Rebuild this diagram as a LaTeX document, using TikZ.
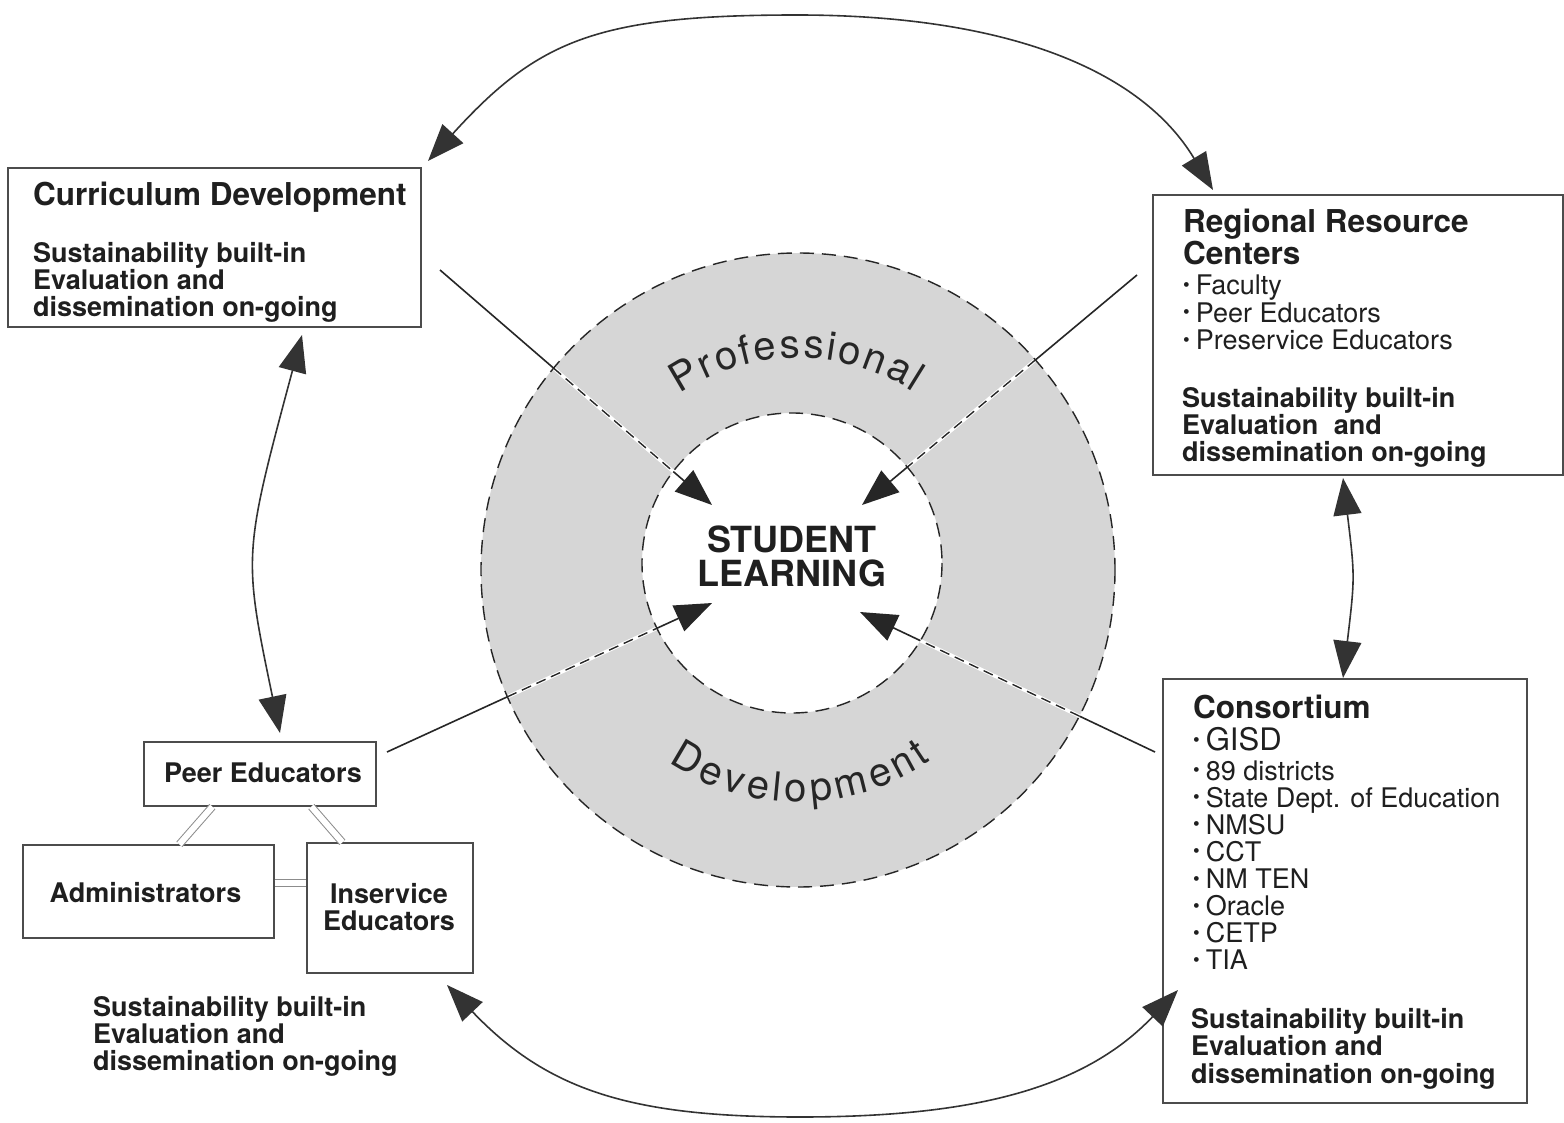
\documentclass[tikz,border=0pt]{standalone}
\usepackage{fontspec}
\setmainfont{TeX Gyre Heros}
\usetikzlibrary{arrows.meta,calc,decorations.text,intersections}
\newcommand\tblock[1]{\vtop{\tabskip=0pt\halign{##\hfil\cr#1\crcr}}}
\newcommand\cblock[1]{\vtop{\tabskip=0pt\halign{\hfil##\hfil\cr#1\crcr}}}
\newcommand\bul{\raisebox{3.5pt}{\fontsize{19}{19}\selectfont •}\hspace{6pt}}
\newcommand\fH{\fontsize{31.5}{29.5}\selectfont\bfseries}
\newcommand\fB{\fontsize{27}{27}\selectfont\bfseries}
\newcommand\fG{\fontsize{31}{31}\selectfont}
\newcommand\fP{\fontsize{40}{40}\selectfont}
\newcommand\fS{\fontsize{36}{34}\selectfont\bfseries}
\tikzset{
 boxs/.style={draw=black!70, line width=1.3pt, inner sep=0pt},
 txt/.style={inner sep=0pt, anchor=base west, text=black!88},
 ctxt/.style={inner sep=0pt, anchor=base, text=black!88},
 bigtip/.tip={Triangle[length=37pt,width=28pt]},
 radialarrow/.style={draw=black!85, line width=1.6pt, -bigtip},
 cyc/.style={draw=black!80, line width=1.6pt, bigtip-bigtip},
 ringgap/.style={draw=white, line width=3.5pt},
 ringdiv/.style={draw=black!85, line width=1.4pt, dash pattern=on 10pt off 6pt},
 ringdash/.style={draw=black!85, line width=1.4pt, dash pattern=on 14pt off 8pt},
 dbl/.style={draw=black!45, line width=1pt, double=white, double distance=6pt},
 ringfill/.style={fill=black!16},
}
\begin{document}
\begin{tikzpicture}[x=1pt,y=-1pt]
\useasboundingbox (0,0) rectangle (1564,1123);
\fill[white] (0,0) rectangle (1564,1123);

% ring
\coordinate (C) at (798,570);
\coordinate (Ci) at (792,563);
\fill[ringfill, even odd rule] (C) circle[radius=317] (Ci) circle[radius=150];

% radial connectors
\coordinate (tl0) at (440,270); \coordinate (tl1) at (712,505);
\coordinate (tr0) at (1137,275); \coordinate (tr1) at (862,505);
\coordinate (bl0) at (387,752); \coordinate (bl1) at (712,603);
\coordinate (br0) at (1155,752); \coordinate (br1) at (860,612);
\path[name path=outc] (C) circle[radius=317];
\path[name path=innc] (Ci) circle[radius=150];
\foreach \rr in {tl,tr,bl,br}{
  \draw[radialarrow] (\rr0) -- (\rr1);
  \path[name path=rl] (\rr0) -- (\rr1);
  \path[name intersections={of=outc and rl, by={\rr A}}];
  \path[name intersections={of=innc and rl, by={\rr B}}];
  \draw[ringgap] (\rr A) -- (\rr B);
  \draw[ringdiv] (\rr A) -- (\rr B);
}
\draw[ringdash] (C) circle[radius=317];
\draw[ringdash] (Ci) circle[radius=150];

% curved labels
\path[decorate, decoration={text along path, text color=black!85,
  text={|\fP|Professional}, text align={fit to path}}]
  ($(C)+(236:212)$) arc[start angle=236, end angle=303, radius=212];
\path[decorate, decoration={text along path, text color=black!85,
  text={|\fP|Development}, text align={fit to path}}]
  ($(C)+(124:232)$) arc[start angle=124, end angle=55, radius=232];

\node[ctxt, font=\fS] (sl) at (792,552) {\cblock{STUDENT\cr LEARNING}};

% boxes
\node[boxs, minimum width=413, minimum height=159] (cur) at (214.5,247.5) {};
\node[boxs, minimum width=410, minimum height=280] (rrc) at (1358,335) {};
\node[boxs, minimum width=364, minimum height=424] (con) at (1345,891) {};
\node[boxs, minimum width=232, minimum height=64] (peer) at (260,774) {};
\node[boxs, minimum width=251, minimum height=93] (adm) at (148.5,891.5) {};
\node[boxs, minimum width=166, minimum height=130] (ins) at (390,908) {};

% texts
\node[txt, font=\fH] (curh) at (33,206) {Curriculum Development};
\node[txt, font=\fB] (curs) at (33,263) {\tblock{Sustainability built-in\cr Evaluation and\cr dissemination on-going}};

\node[txt, font=\fH] (rrch) at (1183,233) {\tblock{Regional Resource\cr Centers}};
\node[txt, font=\fontsize{27}{27.5}\selectfont] (rrcb) at (1183,295) {\tblock{\bul Faculty\cr \bul Peer Educators\cr \bul Preservice Educators}};
\node[txt, font=\fB] (rrcs) at (1182,407) {\tblock{Sustainability built-in\cr Evaluation\hspace{8pt} and\cr dissemination on-going}};

\node[txt, font=\fH] (conh) at (1193,718) {Consortium};
\node[txt, font=\fG] (cong) at (1193,750) {\bul GISD};
\node[txt, font=\fontsize{27}{27.14}\selectfont] (conb) at (1193,780) {\tblock{\bul 89 districts\cr \bul State Dept. of Education\cr \bul NMSU\cr \bul CCT\cr \bul NM TEN\cr \bul Oracle\cr \bul CETP\cr \bul TIA}};
\node[txt, font=\fontsize{27}{27.5}\selectfont\bfseries] (cons) at (1191,1028) {\tblock{Sustainability built-in\cr Evaluation and\cr dissemination on-going}};

\node[ctxt, font=\fB] (peert) at (263,782) {Peer Educators};
\node[ctxt, font=\fB] (admt) at (145.5,902) {Administrators};
\node[ctxt, font=\fB] (inst) at (389,903) {\cblock{Inservice\cr Educators}};
\node[txt, font=\fB] (bls) at (93,1016) {\tblock{Sustainability built-in\cr Evaluation and\cr dissemination on-going}};

% double links
\draw[dbl] ($(peer.south west)+(69,0)$) -- ($(adm.north west)+(157,0)$);
\draw[dbl] ($(peer.south west)+(168,0)$) -- ($(ins.north west)+(36,0)$);
\draw[dbl] ($(adm.north east)+(0,39)$) -- ($(ins.north west)+(0,41)$);

% outer cycle arrows
\coordinate (t1) at (428,161); \coordinate (tA) at (797,15); \coordinate (t2) at (1213,190);
\draw[cyc] (t1) .. controls (538,40) and (597,15) .. (tA) .. controls (1007,15) and (1141,70) .. (t2);
\coordinate (l1) at (302,335); \coordinate (l2) at (280,733);
\draw[cyc] (l1) .. controls (243,555) .. (l2);
\coordinate (r1) at (1343,478); \coordinate (r2) at (1343,678);
\draw[cyc] (r1) .. controls (1355,577) .. (r2);
\coordinate (b1) at (447,985); \coordinate (bA) at (800,1117); \coordinate (b2) at (1178,990);
\draw[cyc] (b1) .. controls (547,1090) and (630,1117) .. (bA) .. controls (970,1117) and (1083,1090) .. (b2);
\end{tikzpicture}
\end{document}
